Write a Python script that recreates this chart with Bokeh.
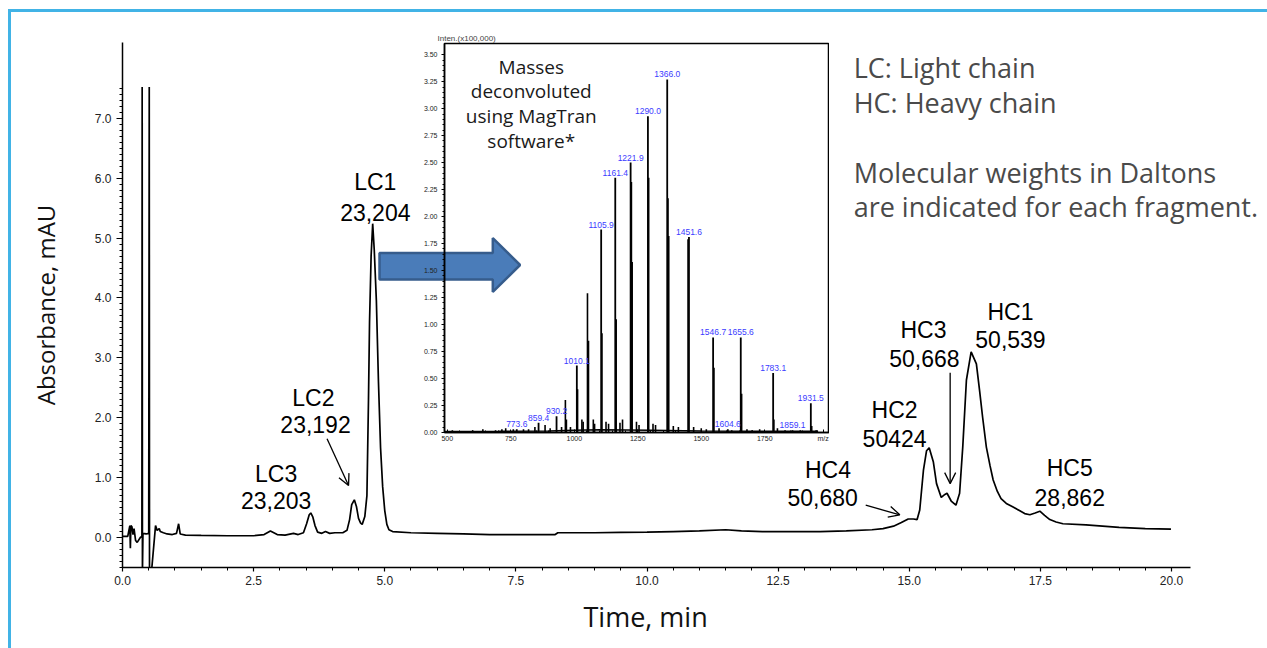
from bokeh.plotting import figure
from bokeh.models import (Range1d, FixedTicker, PrintfTickFormatter, Label, Arrow,
                          OpenHead, GridBox, Div, Title)
from bokeh.core.properties import value
from bokeh.embed import file_html
from bokeh.resources import INLINE

# ---------------- chromatogram data ----------------
time_min = [0.00, 0.10, 0.14, 0.15, 0.16, 0.18, 0.20, 0.22, 0.25, 0.28, 0.34, 0.37,
            0.375, 0.38, 0.39, 0.45, 0.50, 0.51, 0.515, 0.55, 0.63, 0.66, 0.70, 0.72,
            0.78, 0.85, 0.95, 1.03, 1.07, 1.10, 1.20, 1.50, 2.00, 2.50, 2.70, 2.82,
            2.95, 3.10, 3.26, 3.35, 3.45, 3.51, 3.56, 3.59, 3.63, 3.67, 3.72, 3.80,
            3.87, 3.95, 4.05, 4.20, 4.28, 4.33, 4.37, 4.42, 4.46, 4.50, 4.54, 4.57,
            4.62, 4.66, 4.69, 4.71, 4.74, 4.77, 4.80, 4.84, 4.88, 4.92, 4.96, 5.00,
            5.04, 5.08, 5.15, 5.50, 6.00, 6.50, 7.00, 7.50, 8.00, 8.25, 8.30, 9.00,
            9.50, 10.00, 10.50, 11.00, 11.50, 11.80, 12.20, 12.70, 13.30, 13.80,
            14.29, 14.50, 14.70, 14.85, 14.98, 15.08, 15.15, 15.20, 15.27, 15.33,
            15.38, 15.46, 15.52, 15.61, 15.68, 15.72, 15.80, 15.89, 15.96, 16.02,
            16.09, 16.18, 16.28, 16.34, 16.40, 16.47, 16.54, 16.60, 16.68, 16.75,
            16.85, 16.98, 17.10, 17.20, 17.30, 17.40, 17.49, 17.58, 17.68, 17.80,
            17.93, 18.37, 19.00, 19.50, 19.99]
absorbance = [0.02, 0.02, 0.20, -0.18, 0.20, 0.18, 0.05, 0.15, -0.05, -0.08, 0.00, 0.02,
              7.52, -0.60, 0.07, 0.06, 0.07, 7.52, -0.60, -0.60, 0.20, 0.12, 0.15, 0.10,
              0.08, 0.06, 0.05, 0.07, 0.23, 0.06, 0.04, 0.035, 0.03, 0.03, 0.05, 0.11,
              0.05, 0.04, 0.07, 0.05, 0.08, 0.23, 0.38, 0.41, 0.34, 0.20, 0.09, 0.07,
              0.10, 0.07, 0.08, 0.08, 0.12, 0.30, 0.55, 0.63, 0.52, 0.32, 0.24, 0.22,
              0.35, 0.70, 2.30, 3.60, 4.70, 5.24, 4.80, 3.96, 2.60, 1.50, 0.85, 0.45,
              0.22, 0.13, 0.10, 0.08, 0.07, 0.06, 0.05, 0.05, 0.05, 0.05, 0.08, 0.08,
              0.085, 0.09, 0.10, 0.11, 0.13, 0.11, 0.10, 0.10, 0.10, 0.11,
              0.13, 0.15, 0.19, 0.25, 0.31, 0.31, 0.30, 0.46, 1.12, 1.45,
              1.50, 1.26, 0.90, 0.67, 0.72, 0.74, 0.61, 0.54, 0.74, 1.51,
              2.63, 3.10, 2.90, 2.46, 2.00, 1.51, 1.20, 0.96, 0.77, 0.65,
              0.57, 0.51, 0.45, 0.40, 0.38, 0.41, 0.44, 0.37, 0.30, 0.26,
              0.23, 0.21, 0.17, 0.15, 0.14]

x_major = [0, 2.5, 5, 7.5, 10, 12.5, 15, 17.5, 20]
x_minor = [i * 0.5 for i in range(41)]
y_major = [0, 1, 2, 3, 4, 5, 6, 7]
y_minor = [round(-0.5 + i * 0.1, 2) for i in range(81)]

peak_names = ["LC1", "LC2", "LC3", "HC4", "HC2", "HC3", "HC1", "HC5"]
peak_masses = ["23,204", "23,192", "23,203", "50,680", "50424", "50,668", "50,539", "28,862"]
name_x = [4.82, 3.64, 2.93, 13.45, 14.72, 15.27, 16.93, 18.06]
name_y = [5.94, 2.33, 1.06, 1.12, 2.13, 3.46, 3.77, 1.16]
mass_x = [4.82, 3.68, 2.93, 13.35, 14.72, 15.29, 16.93, 18.06]
mass_y = [5.42, 1.88, 0.62, 0.67, 1.66, 2.99, 3.30, 0.67]

# ---------------- mass spectrum (inset) data ----------------
ms_label_mz = [773.6, 859.4, 930.2, 1010.1, 1105.9, 1161.4, 1221.9, 1290.0, 1366.0,
               1451.6, 1546.7, 1604.6, 1655.6, 1783.1, 1859.1, 1931.5]
ms_label_int = [0.03, 0.09, 0.15, 0.62, 1.88, 2.36, 2.50, 2.93, 3.27,
                1.81, 0.88, 0.03, 0.88, 0.55, 0.02, 0.27]
ms_label_text = ["773.6", "859.4", "930.2", "1010.1", "1105.9", "1161.4", "1221.9",
                 "1290.0", "1366.0", "1451.6", "1546.7", "1604.6", "1655.6", "1783.1",
                 "1859.1", "1931.5"]
ms_other_mz = [965, 969, 1013, 1052, 1056, 1109, 1165, 1225, 1228, 1293, 1369, 1372,
               1448, 1550, 1659, 1786, 1935, 885, 905,
               520, 545, 600, 640, 690, 715, 730, 760, 800, 820, 845, 950, 985,
               1030, 1035, 1075, 1080, 1125, 1135, 1180, 1190, 1245, 1255, 1310, 1320,
               1390, 1410, 1470, 1500, 1520, 1570, 1620, 1680, 1700, 1730, 1800, 1830,
               1890, 1955]
ms_other_int = [0.30, 0.12, 0.40, 1.29, 0.85, 0.92, 1.05, 2.32, 1.58, 2.36, 2.17, 1.82,
                1.79, 0.60, 0.36, 0.12, 0.06, 0.07, 0.04,
                0.02, 0.015, 0.02, 0.03, 0.02, 0.03, 0.04, 0.03, 0.03, 0.03, 0.05, 0.05, 0.05,
                0.12, 0.10, 0.12, 0.08, 0.10, 0.08, 0.09, 0.12, 0.10, 0.07, 0.08, 0.07,
                0.06, 0.05, 0.05, 0.04, 0.03, 0.04, 0.02, 0.03, 0.02, 0.03, 0.04, 0.02,
                0.02, 0.02]
ms_base_mz = [489, 700, 900, 1000, 1100, 1300, 1500, 1700, 1960]
ms_base_int = [0.010, 0.012, 0.015, 0.020, 0.025, 0.020, 0.015, 0.012, 0.012]

ms_x_major = [500, 750, 1000, 1250, 1500, 1750, 1980]
ms_x_minor = [500 + 50 * i for i in range(30)]
ms_y_major = [0.25 * i for i in range(15)]
ms_y_minor = [round(0.05 * i, 2) for i in range(71)]

inset_lines = ["Masses", "deconvoluted", "using MagTran", "software*"]
note_lines = ["LC: Light chain", "HC: Heavy chain", "Molecular weights in Daltons",
              "are indicated for each fragment."]

# ---------------- main figure ----------------
W, H = 1267, 648
BL, BR, BT, BB = 122, 0, 42, 81
p = figure(width=W, height=H, output_backend="svg", toolbar_location=None,
           x_range=Range1d(0, (W - BL - BR) / 52.45),
           y_range=Range1d(-0.5, -0.5 + (H - BT - BB) / 59.9),
           min_border_left=BL, min_border_right=BR, min_border_top=BT,
           min_border_bottom=BB)
p.grid.visible = False
p.outline_line_color = None
p.background_fill_color = "white"
p.border_fill_color = "white"

for ax in (p.xaxis[0], p.yaxis[0]):
    ax.axis_line_width = 1.5
    ax.axis_line_color = "black"
    ax.major_tick_line_color = "black"
    ax.minor_tick_line_color = "black"
    ax.major_tick_line_width = 1.2
    ax.minor_tick_line_width = 1.0
    ax.major_tick_in = 0
    ax.minor_tick_in = 0
    ax.formatter = PrintfTickFormatter(format="%.1f")
    ax.major_label_text_font = "Liberation Sans"
    ax.major_label_text_font_size = "12px"
    ax.major_label_text_color = "#222222"
    ax.axis_label_text_font = "Open Sans"
    ax.axis_label_text_font_style = "normal"
    ax.axis_label_text_color = "#111111"

p.xaxis.ticker = FixedTicker(ticks=x_major, minor_ticks=x_minor)
p.xaxis.bounds = (0, 20.36)
p.xaxis.major_tick_out = 4
p.xaxis.minor_tick_out = 3
p.xaxis.major_label_standoff = 4

# x-axis title placed under the drawn axis (0..20.36), not under the whole frame
p.add_layout(Title(text="Time, min", align="left", offset=461,
                   text_font="Open Sans", text_font_size="27px",
                   text_font_style="normal", text_color="#111111", standoff=17),
             "below")

p.yaxis.ticker = FixedTicker(ticks=y_major, minor_ticks=y_minor)
p.yaxis.major_tick_out = 6
p.yaxis.minor_tick_out = 3
p.yaxis.major_label_standoff = 5
p.yaxis.axis_label = "Absorbance, mAU"
p.yaxis.axis_label_text_font_size = "24px"
p.yaxis.axis_label_standoff = 30

# big blue arrow (decoration)
p.patch([4.90, 7.06, 7.06, 7.58, 7.06, 7.06, 4.90],
        [4.75, 4.75, 5.00, 4.55, 4.10, 4.31, 4.31],
        fill_color="#4a7cb9", line_color="#365c8c", line_width=2.5)

p.line(time_min, absorbance, line_color="black", line_width=1.7)

p.text(name_x, name_y, text=peak_names, text_font=value("Liberation Sans"),
       text_font_size=value("23px"), text_align="center", text_baseline="middle",
       text_color="black")
p.text(mass_x, mass_y, text=peak_masses, text_font=value("Liberation Sans"),
       text_font_size=value("23px"), text_align="center", text_baseline="middle",
       text_color="black")

for xs, ys, xe, ye in [(3.90, 1.65, 4.31, 0.87), (14.17, 0.54, 14.82, 0.38),
                       (15.78, 2.75, 15.78, 0.90)]:
    p.add_layout(Arrow(end=OpenHead(size=11, line_width=1.3, line_color="black"),
                       x_start=xs, y_start=ys, x_end=xe, y_end=ye,
                       line_width=1.3, line_color="black"))

for txt, yy in zip(note_lines, [7.84, 7.26, 6.09, 5.52]):
    p.add_layout(Label(x=13.94, y=yy, text=txt, text_font="Open Sans",
                       text_font_size="27px", text_color="#4a4a4a",
                       text_baseline="middle", text_align="left"))

# ---------------- inset figure ----------------
# frame of inset: page x 444..829, y 43..432 (borders aligned with main plot)
IW, IH = 385, 389
q = figure(width=BL + IW + BR, height=BT + IH + BB, output_backend="svg",
           toolbar_location=None,
           x_range=Range1d(489, 2005), y_range=Range1d(0, 3.603),
           min_border_left=BL, min_border_right=BR, min_border_top=BT,
           min_border_bottom=BB, title="Inten.(x100,000)")
q.grid.visible = False
q.background_fill_alpha = 0
q.border_fill_alpha = 0
q.outline_line_color = "black"
q.outline_line_width = 1.5
q.title.text_font = "Liberation Sans"
q.title.text_font_size = "8px"
q.title.text_font_style = "normal"
q.title.align = "left"
q.title.offset = -7
q.title.standoff = 2

for ax in (q.xaxis[0], q.yaxis[0]):
    ax.axis_line_width = 1.5
    ax.major_label_text_font = "Liberation Sans"
    ax.major_label_text_font_size = "7px"
    ax.major_label_text_color = "#222222"
    ax.major_tick_line_width = 1
    ax.minor_tick_line_width = 1

q.xaxis.ticker = FixedTicker(ticks=ms_x_major, minor_ticks=ms_x_minor)
q.xaxis.major_label_overrides = {1980: "m/z"}
q.xaxis.major_tick_in = 3
q.xaxis.major_tick_out = 0
q.xaxis.minor_tick_in = 2
q.xaxis.minor_tick_out = 0
q.xaxis.major_label_standoff = 2
q.yaxis.ticker = FixedTicker(ticks=ms_y_major, minor_ticks=ms_y_minor)
q.yaxis.formatter = PrintfTickFormatter(format="%.2f")
q.yaxis.major_tick_in = 0
q.yaxis.major_tick_out = 3
q.yaxis.minor_tick_in = 0
q.yaxis.minor_tick_out = 2
q.yaxis.major_label_standoff = 4

q.line(ms_base_mz, ms_base_int, line_color="black", line_width=1.5)
q.segment(ms_other_mz, [0] * len(ms_other_mz), ms_other_mz, ms_other_int,
          line_color="black", line_width=1.6)
q.segment(ms_label_mz, [0] * len(ms_label_mz), ms_label_mz, ms_label_int,
          line_color="black", line_width=1.8)
q.text(ms_label_mz, ms_label_int, text=ms_label_text, text_font=value("Liberation Sans"),
       text_font_size=value("8.5px"), text_color="#3b3bff", text_align="center",
       text_baseline="bottom", y_offset=-2)
q.text([830.7] * 4, [3.383, 3.16, 2.928, 2.696], text=inset_lines,
       text_font=value("Open Sans"), text_font_size=value("19px"),
       text_color="#1a1a1a", text_align="center", text_baseline="middle")

q.margin = (43 - BT, 0, 0, 444 - BL)
q.align = "start"

frame = Div(text="", width=W - 8, height=H - 9,
            styles={"border-top": "3px solid #41b3e6", "border-left": "3px solid #41b3e6",
                    "box-sizing": "border-box", "pointer-events": "none"})
frame.margin = (9, 0, 0, 8)
frame.align = "start"

layout = GridBox(children=[(p, 0, 0), (q, 0, 0), (frame, 0, 0)])

open("out.html", "w").write(file_html(layout, INLINE))
